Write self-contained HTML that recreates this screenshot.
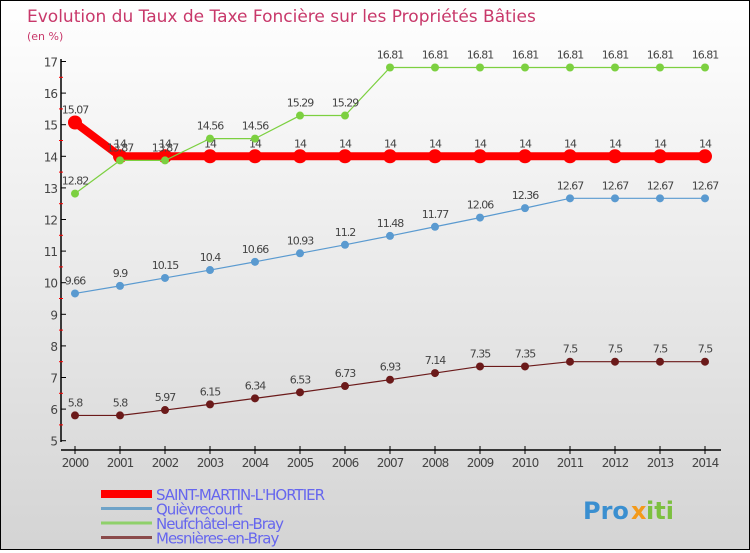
<!DOCTYPE html>
<html><head><meta charset="utf-8"><style>
body{margin:0}
#c{width:748px;height:548px;border:1px solid #000;background:linear-gradient(#fff,#d4d4d4);position:relative;font-family:"DejaVu Sans","Liberation Sans",sans-serif}
</style></head><body>
<div id="c">
<svg id="s" width="748" height="548"></svg>
</div>
<script>
const years=[2000,2001,2002,2003,2004,2005,2006,2007,2008,2009,2010,2011,2012,2013,2014];
const saint=[15.07,14,14,14,14,14,14,14,14,14,14,14,14,14,14];
const quiev=[9.66,9.9,10.15,10.4,10.66,10.93,11.2,11.48,11.77,12.06,12.36,12.67,12.67,12.67,12.67];
const neuf=[12.82,13.87,13.87,14.56,14.56,15.29,15.29,16.81,16.81,16.81,16.81,16.81,16.81,16.81,16.81];
const mesn=[5.8,5.8,5.97,6.15,6.34,6.53,6.73,6.93,7.14,7.35,7.35,7.5,7.5,7.5,7.5];
const yTicks=[5,6,7,8,9,10,11,12,13,14,15,16,17];
const names=["SAINT-MARTIN-L'HORTIER","Quièvrecourt","Neufchâtel-en-Bray","Mesnières-en-Bray"];
const NS="http://www.w3.org/2000/svg";
const s=document.getElementById('s');
const X=i=>74+45*i, Y=v=>439.7-(v-5)*31.6;
function el(t,a,p){const e=document.createElementNS(NS,t);for(const k in a)e.setAttribute(k,a[k]);(p||s).appendChild(e);return e;}
function tx(x,y,str,a){const e=el('text',Object.assign({x:x,y:y},a));e.textContent=str;return e;}
let t=tx(26,21,'Evolution du Taux de Taxe Foncière sur les Propriétés Bâties',{fill:'#c8386a','font-size':17});

t=tx(26,39,'(en %)',{fill:'#c8386a','font-size':11});

// axes
let a=el('line',{x1:60,y1:58,x2:60,y2:441,stroke:'#000','stroke-width':1.5});

a=el('line',{x1:60,y1:449,x2:720,y2:449,stroke:'#000','stroke-width':1.5});

yTicks.forEach(v=>{
 el('line',{x1:60,y1:Y(v),x2:65,y2:Y(v),stroke:'#000'});
 if(v<17)el('line',{x1:58,y1:Y(v+0.5),x2:62,y2:Y(v+0.5),stroke:'#f00'});
 const l=tx(56,Y(v)+5,String(v),{'text-anchor':'end','font-size':12,fill:'#444','letter-spacing':-1});
 
});
years.forEach((yr,i)=>{
 el('line',{x1:X(i),y1:445,x2:X(i),y2:453,stroke:'#000'});
 const l=tx(X(i),466,String(yr),{'text-anchor':'middle','font-size':12,fill:'#444','letter-spacing':-1});
 
});
function series(d,col,w,r,name,fmt){
 const g=el('g',{});
 el('polyline',{points:d.map((v,i)=>X(i)+','+Y(v)).join(' '),fill:'none',stroke:col,'stroke-width':w},g);
 d.forEach((v,i)=>{const c=el('circle',{cx:X(i),cy:Y(v),r:r,fill:col},g);
  const l=tx(X(i),Y(v)-9,String(v),{'text-anchor':'middle','font-size':11,fill:'#444','letter-spacing':-1},g);});
}
series(mesn,'#6b1a1a',1.2,4,'series-mesnieres');
series(quiev,'#5a9ad0',1.2,4,'series-quievrecourt');
series(saint,'#f00',8,7,'series-saint-martin');
series(neuf,'#7cd040',1.2,4,'series-neufchatel');
const lc=['#f00','#6fa3c8','#8fd06a','#8a4a4a'],lw=[8,3,3,3];
names.forEach((n,i)=>{
 const y=493+14.5*i;
 const g=el('g',{});
 el('line',{x1:100,y1:y,x2:151,y2:y,stroke:lc[i],'stroke-width':lw[i]},g);
 tx(155,y+6,n,{'font-size':15,fill:'#6666ee','letter-spacing':-1},g);
});
t=tx(582,518,'Pro',{'font-size':24,'font-weight':'bold',fill:'#3a8fd0'});

const x2=tx(630,518,'x',{'font-size':24,'font-weight':'bold',fill:'#f39a1a'});
tx(645,518,'iti',{'font-size':24,'font-weight':'bold',fill:'#7cc040'});
</script>
</body></html>
